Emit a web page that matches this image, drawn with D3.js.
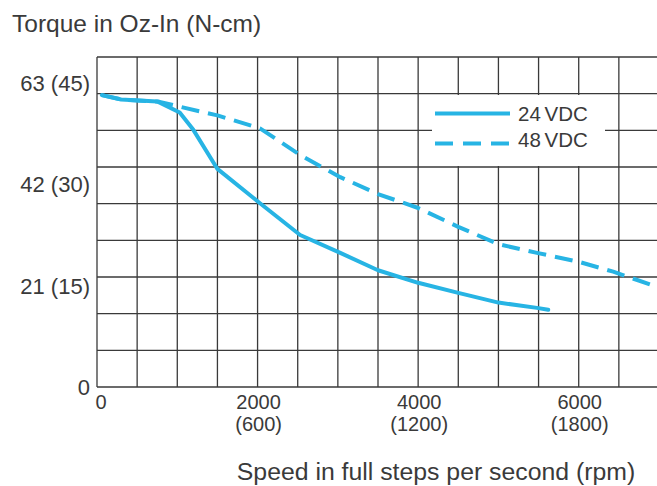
<!DOCTYPE html>
<html>
<head>
<meta charset="utf-8">
<script src="https://cdn.jsdelivr.net/npm/d3@7"></script>
<style>
  body { margin: 0; background: #fff; }
  text { font-family: "Liberation Sans", Arial, sans-serif; fill: #3a3a3a; }
</style>
</head>
<body>
<script>
// speed in full steps per second, torque in oz-in
var speed24 = [60, 300, 750, 1030, 1200, 1500, 2030, 2530, 3030, 3500, 4000, 4500, 5000, 5480, 5620];
var torque24 = [60.5, 59.6, 59.2, 56.9, 53.3, 45.2, 38.1, 31.5, 27.8, 24.2, 21.6, 19.5, 17.5, 16.4, 16.0];

var speed48 = [60, 300, 780, 1030, 1500, 2030, 2530, 3030, 3500, 4000, 4500, 5000, 5480, 5990, 6430, 7000];
var torque48 = [60.5, 59.6, 59.1, 58.1, 56.3, 53.6, 48.1, 43.5, 40.0, 37.1, 33.2, 29.6, 27.8, 26.0, 23.9, 20.6];

var yTickOz = [0, 21, 42, 63];
var yTickNcm = ["", "15", "30", "45"];
var xTickSteps = [0, 2000, 4000, 6000];
var xTickRpm = ["", "600", "1200", "1800"];

var width = 657, height = 486;
var xMax = 7000, yMax = 68.4;
var color = "#27b4e4";

var x = d3.scaleLinear().domain([0, xMax]).range([97, 659]);
var y = d3.scaleLinear().domain([0, yMax]).range([387, 57]);

var svg = d3.select("body").append("svg")
    .attr("width", width)
    .attr("height", height);

// grid: every 500 steps across, 9 equal rows up
var gx = d3.range(0, xMax + 1, 500);
var gy = d3.range(0, 10).map(function (i) { return i * yMax / 9; });

svg.append("g").selectAll("line").data(gx).enter().append("line")
    .attr("x1", function (d) { return x(d); })
    .attr("x2", function (d) { return x(d); })
    .attr("y1", y(yMax)).attr("y2", y(0))
    .attr("stroke", "#3a3a3a").attr("stroke-width", 1.3);

svg.append("g").selectAll("line").data(gy).enter().append("line")
    .attr("x1", x(0)).attr("x2", x(xMax))
    .attr("y1", function (d) { return y(d); })
    .attr("y2", function (d) { return y(d); })
    .attr("stroke", "#3a3a3a").attr("stroke-width", 1.3);

// legend box covers the grid
svg.append("rect")
    .attr("x", 432).attr("y", 95)
    .attr("width", 173).attr("height", 71)
    .attr("fill", "#fff");

var line = d3.line()
    .x(function (d) { return x(d[0]); })
    .y(function (d) { return y(d[1]); });

var data24 = speed24.map(function (s, i) { return [s, torque24[i]]; });
var data48 = speed48.map(function (s, i) { return [s, torque48[i]]; });

svg.append("path")
    .datum(data48)
    .attr("d", line)
    .attr("fill", "none")
    .attr("stroke", color)
    .attr("stroke-width", 4)
    .attr("stroke-dasharray", "18,9")
    .attr("stroke-linejoin", "round");

svg.append("path")
    .datum(data24)
    .attr("d", line)
    .attr("fill", "none")
    .attr("stroke", color)
    .attr("stroke-width", 4)
    .attr("stroke-linejoin", "round")
    .attr("stroke-linecap", "round");

// legend
var legend = svg.append("g");
legend.append("line")
    .attr("x1", 435).attr("x2", 510).attr("y1", 113.5).attr("y2", 113.5)
    .attr("stroke", color).attr("stroke-width", 4);
legend.append("line")
    .attr("x1", 435).attr("x2", 510).attr("y1", 143.5).attr("y2", 143.5)
    .attr("stroke", color).attr("stroke-width", 4)
    .attr("stroke-dasharray", "18,10");
legend.append("text").attr("x", 518).attr("y", 121)
    .style("font-size", "20.5px").style("word-spacing", "-2px").text("24 VDC");
legend.append("text").attr("x", 518).attr("y", 146.5)
    .style("font-size", "20.5px").style("word-spacing", "-2px").text("48 VDC");

// y tick labels
svg.append("g").selectAll("text").data(yTickOz).enter().append("text")
    .attr("x", x(0) - 7)
    .attr("y", function (d) { return y(d); })
    .attr("dy", "0.36em")
    .attr("text-anchor", "end")
    .style("font-size", "22px")
    .text(function (d, i) { return yTickNcm[i] ? d + " (" + yTickNcm[i] + ")" : d; });

// x tick labels, two lines
svg.append("g").selectAll("text").data(xTickSteps).enter().append("text")
    .attr("x", function (d) { return x(d) + (d === 0 ? 4 : 1); })
    .attr("y", 409)
    .attr("text-anchor", "middle")
    .style("font-size", "20px")
    .text(function (d) { return d; });

svg.append("g").selectAll("text").data(xTickSteps).enter().append("text")
    .attr("x", function (d) { return x(d) + 1; })
    .attr("y", 431)
    .attr("text-anchor", "middle")
    .style("font-size", "20px")
    .text(function (d, i) { return xTickRpm[i] ? "(" + xTickRpm[i] + ")" : ""; });

// axis titles
svg.append("text")
    .attr("x", 12).attr("y", 32)
    .style("font-size", "24.5px")
    .text("Torque in Oz-In (N-cm)");

svg.append("text")
    .attr("x", 436).attr("y", 480)
    .attr("text-anchor", "middle")
    .style("font-size", "24.8px")
    .text("Speed in full steps per second (rpm)");
</script>
</body>
</html>
